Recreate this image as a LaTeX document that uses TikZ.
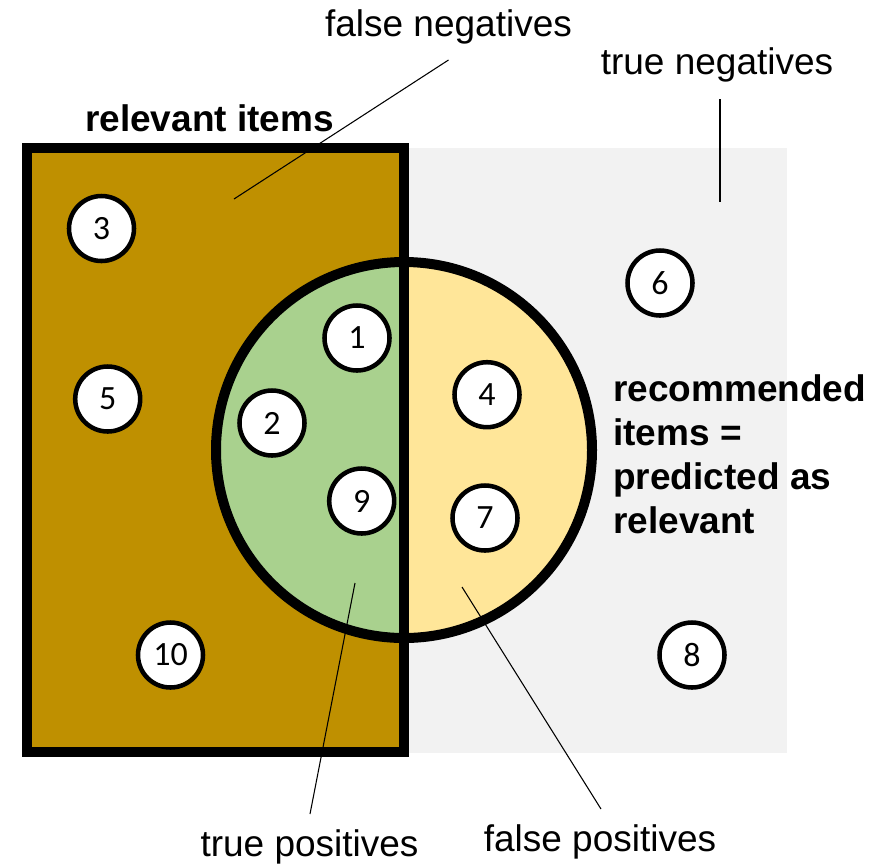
\documentclass[tikz,border=0pt]{standalone}
\usepackage{fontspec}
\setmainfont{Liberation Sans}
\newfontfamily\digitfont{Carlito}
\definecolor{relbrown}{HTML}{BF9000}
\definecolor{tpgreen}{HTML}{A9D18E}
\definecolor{fpyellow}{HTML}{FFE699}
\definecolor{tngray}{HTML}{F2F2F2}

\begin{document}
\begin{tikzpicture}[x=0.75pt,y=-0.75pt,
  item/.style={circle,draw=black,fill=white,line width=3.4pt,
    minimum size=48.75pt,inner sep=0pt,
    font=\digitfont\fontsize{25.5}{30}\selectfont},
  lbl/.style={inner sep=0pt,anchor=base,font=\fontsize{27.75}{31.3}\selectfont},
  boldlbl/.style={lbl,font=\fontsize{27.75}{33.2}\selectfont\bfseries},
  pointer/.style={line width=0.8pt},
  heavy/.style={line width=7.5pt}]
\useasboundingbox (0,0) rectangle (877,865);

% all items (background)
\fill[tngray] (27,148) rectangle (787,753);
% relevant items
\fill[relbrown] (27,148) rectangle (404,752);

% recommended items: relevant part green, non-relevant part yellow
\coordinate (C) at (404,450);
\begin{scope}
  \clip (150,200) rectangle (404,700);
  \fill[tpgreen] (C) circle[radius=141pt];
\end{scope}
\begin{scope}
  \clip (404,200) rectangle (700,700);
  \fill[fpyellow] (C) circle[radius=141pt];
\end{scope}
\draw[heavy] (C) circle[radius=141pt];
\draw[heavy] (27,148) rectangle (404,752);

% items
\node[item] (i3)  at (101.5,228.5) {3};
\node[item] (i5)  at (107.7,399)   {5};
\node[item] (i10) at (170.5,655)   {10};
\node[item] (i1)  at (357,338)     {1};
\node[item] (i2)  at (272,423)     {2};
\node[item] (i9)  at (361.7,501)   {9};
\node[item] (i4)  at (487,394.7)   {4};
\node[item] (i7)  at (485,518)     {7};
\node[item] (i6)  at (660,283)     {6};
\node[item] (i8)  at (692,655)     {8};

% set names
\node[boldlbl] (rel) at (209.5,131.5) {relevant items};
\node[boldlbl,anchor=north west,align=left] (rec) at (613,374)
  {recommended\\items =\\predicted as\\relevant};

% region names and their pointers
\node[lbl] (fn) at (448.5,36) {false negatives};
\node[lbl] (tn) at (717,74) {true negatives};
\node[lbl] (tp) at (309.5,856) {true positives};
\node[lbl] (fp) at (600,851) {false positives};

\coordinate (fnA) at (448.5,60);  \coordinate (fnB) at (234,199);
\coordinate (tnA) at (720,99);    \coordinate (tnB) at (720,202);
\coordinate (tpA) at (355,583);   \coordinate (tpB) at (310,814);
\coordinate (fpA) at (462,587);   \coordinate (fpB) at (601,809);
\draw[pointer] (fnA) -- (fnB);
\draw[pointer] (tnA) -- (tnB);
\draw[pointer] (tpA) -- (tpB);
\draw[pointer] (fpA) -- (fpB);
\end{tikzpicture}
\end{document}
